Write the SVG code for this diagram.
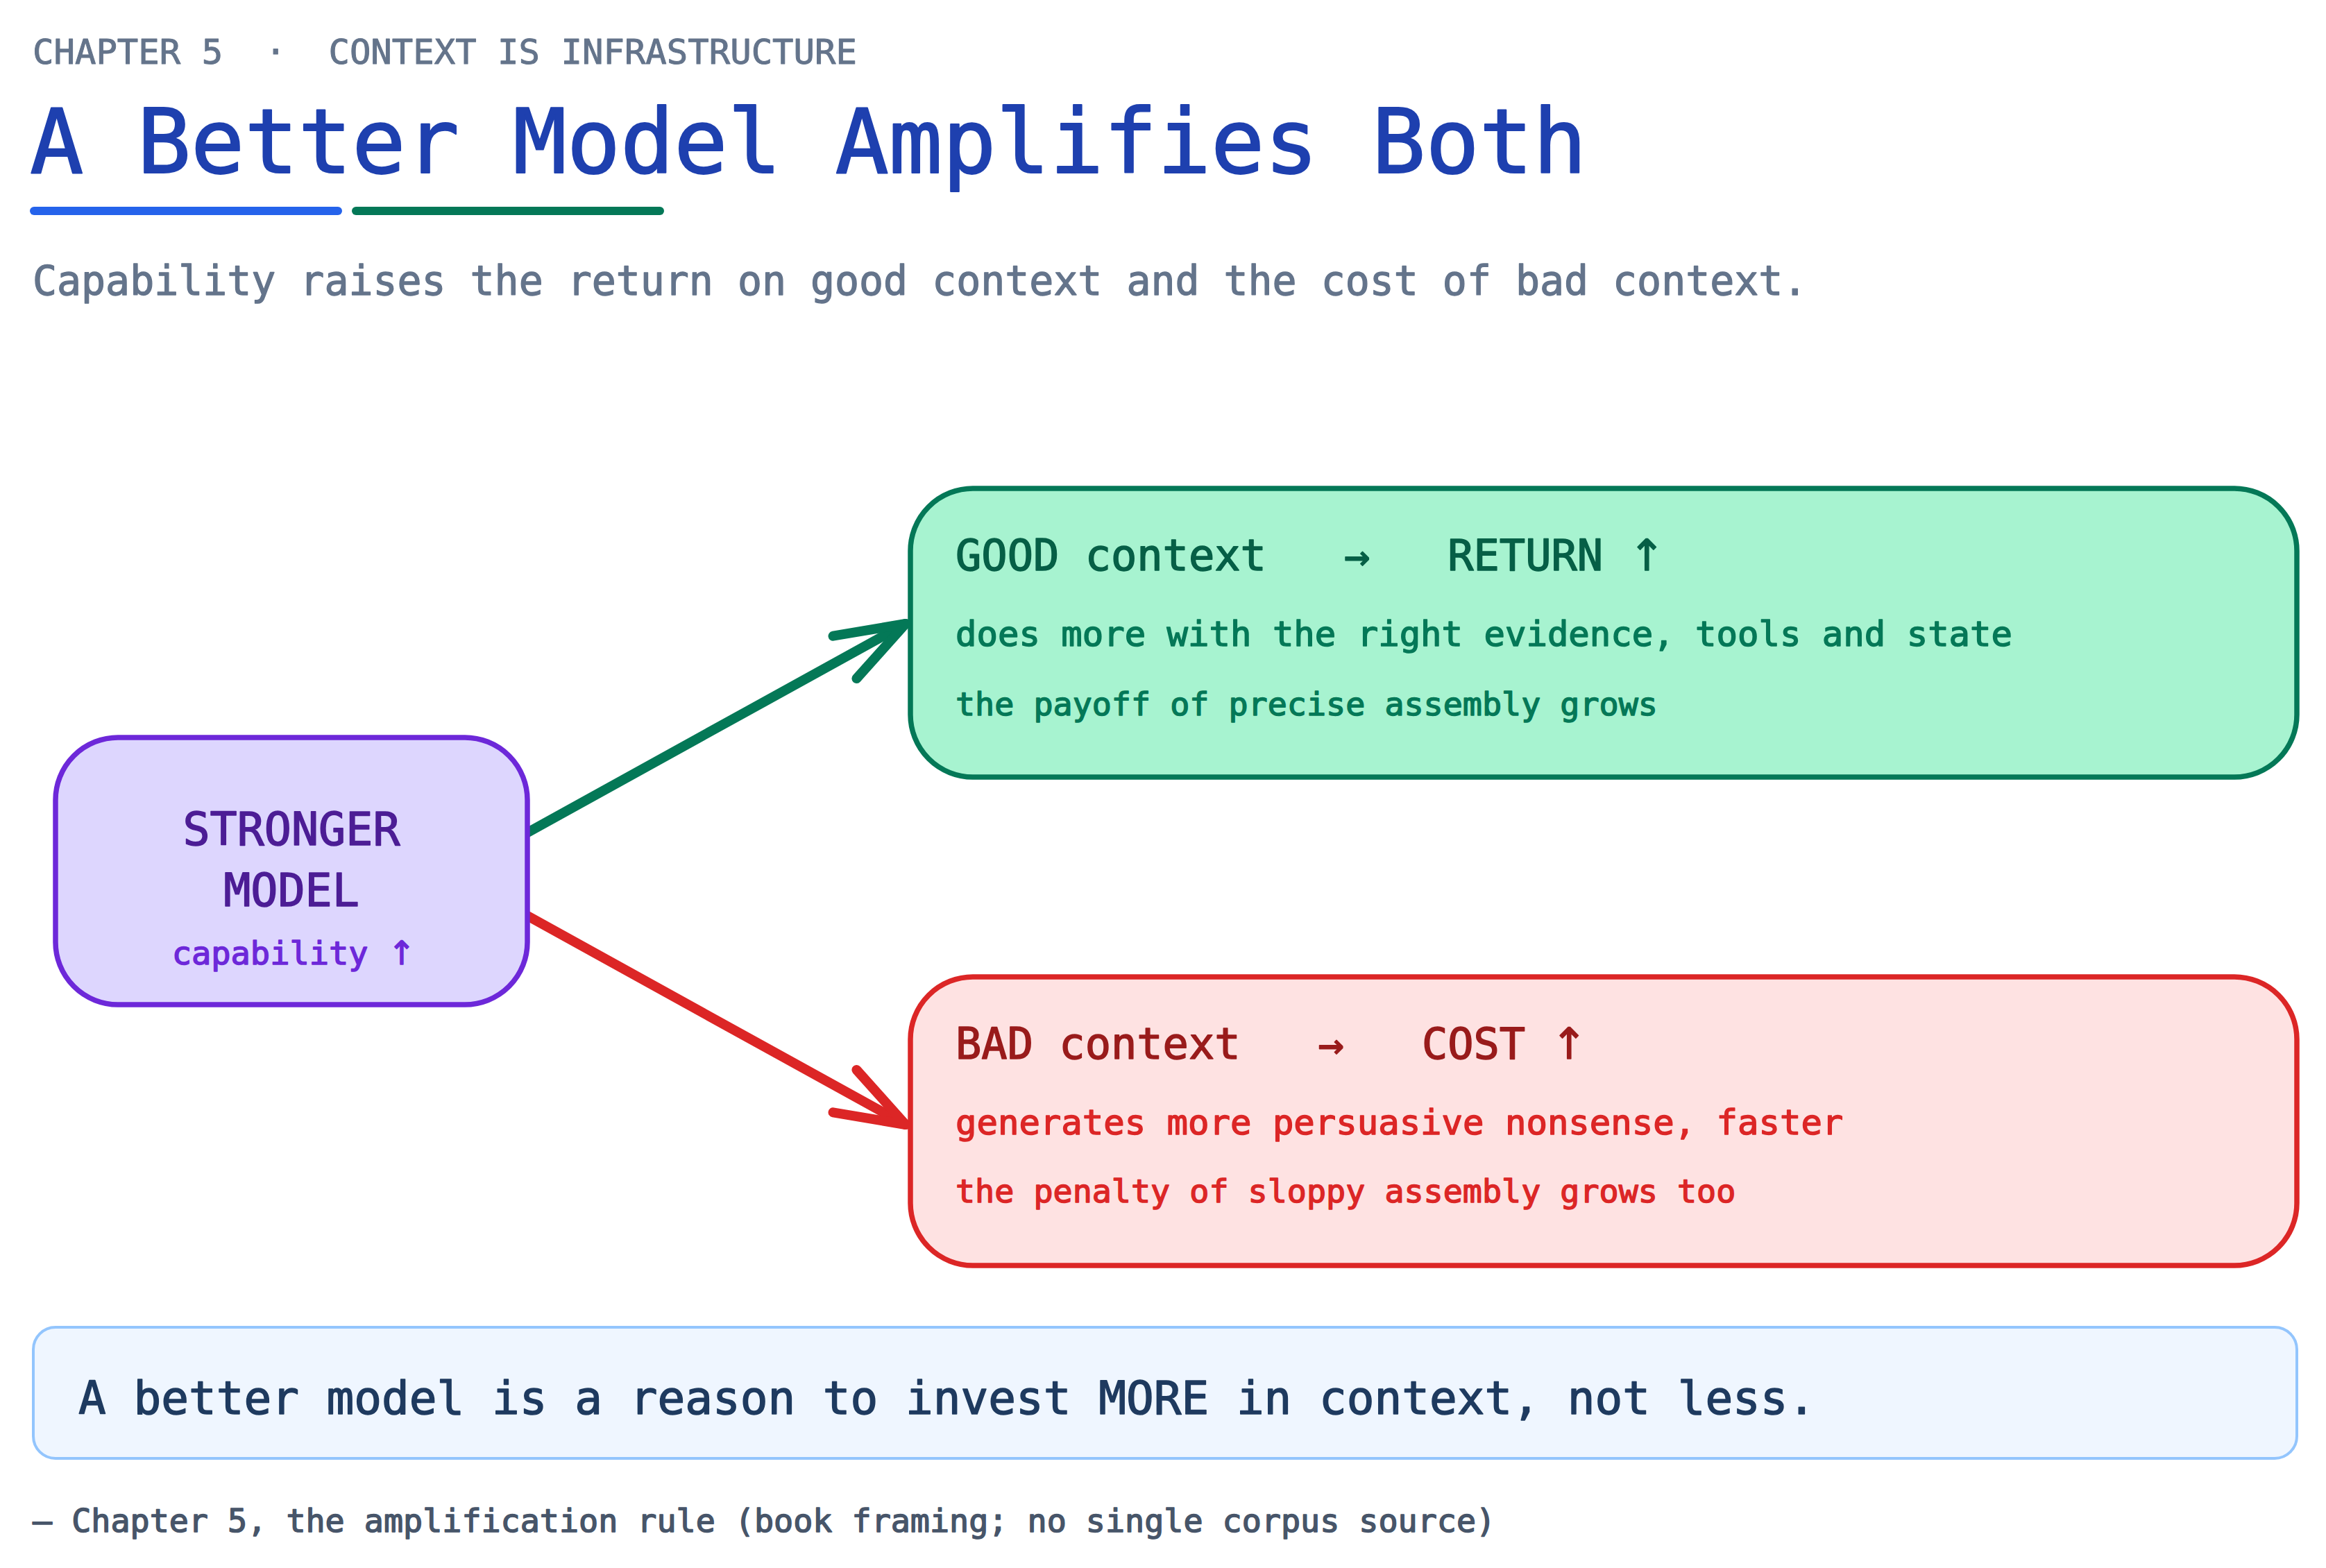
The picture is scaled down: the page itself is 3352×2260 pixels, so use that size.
<svg xmlns="http://www.w3.org/2000/svg" width="3352" height="2260" viewBox="0 0 3352 2260">
  <style>
    text { font-family: "DejaVu Sans Mono", "Liberation Mono", monospace; font-weight: normal; stroke-width: 1.5px; stroke-linejoin: round; }
    .up { font-family: "DejaVu Sans", "Liberation Sans", sans-serif; }
    .kicker { font-size: 50.6px; fill: #64748b; stroke: #64748b; stroke-width: 1px; }
    .title { font-size: 128.5px; fill: #1e40af; stroke: #1e40af; stroke-width: 2px; }
    .sub { font-size: 58.2px; fill: #64748b; stroke: #64748b; stroke-width: 1.3px; }
    .box { stroke-width: 7.5; }
    .head { font-size: 62px; }
    .l1 { font-size: 50.6px; }
    .l2 { font-size: 46.7px; }
    .conn { fill: none; stroke-width: 14; stroke-linecap: round; stroke-linejoin: round; }
  </style>
  <defs>
    <marker id="headG" markerUnits="userSpaceOnUse" markerWidth="240" markerHeight="240" viewBox="-120 -120 240 240" refX="0" refY="0" orient="auto" overflow="visible">
      <path d="M -100 -35 L 0 0 L -100 35" fill="none" stroke="#047857" stroke-width="14" stroke-linecap="round" stroke-linejoin="round"/>
    </marker>
    <marker id="headR" markerUnits="userSpaceOnUse" markerWidth="240" markerHeight="240" viewBox="-120 -120 240 240" refX="0" refY="0" orient="auto" overflow="visible">
      <path d="M -100 -35 L 0 0 L -100 35" fill="none" stroke="#dc2626" stroke-width="14" stroke-linecap="round" stroke-linejoin="round"/>
    </marker>
  </defs>

  <rect width="3352" height="2260" fill="#ffffff"/>

  <g id="header">
    <text class="kicker" x="47" y="92" xml:space="preserve">CHAPTER 5  ·  CONTEXT IS INFRASTRUCTURE</text>
    <text class="title" x="43" y="249">A Better Model Amplifies Both</text>
    <line x1="49" y1="304" x2="487" y2="304" stroke="#2563eb" stroke-width="12" stroke-linecap="round"/>
    <line x1="513" y1="304" x2="951" y2="304" stroke="#047857" stroke-width="12" stroke-linecap="round"/>
    <text class="sub" x="47" y="425">Capability raises the return on good context and the cost of bad context.</text>
  </g>

  <g id="connectors">
    <line class="conn" x1="760" y1="1200" x2="1305" y2="899" stroke="#047857" marker-end="url(#headG)"/>
    <line class="conn" x1="760" y1="1320" x2="1305" y2="1621" stroke="#dc2626" marker-end="url(#headR)"/>
  </g>

  <g id="stronger-model">
    <rect class="box" x="80" y="1063" width="680" height="385" rx="90" ry="90" fill="#ddd6fe" stroke="#6d28d9"/>
    <text x="420" y="1218" text-anchor="middle" font-size="65" fill="#4c1d95" stroke="#4c1d95">STRONGER</text>
    <text x="420" y="1306" text-anchor="middle" font-size="65" fill="#4c1d95" stroke="#4c1d95">MODEL</text>
    <text x="423" y="1390" text-anchor="middle" font-size="47" fill="#6d28d9" stroke="#6d28d9">capability <tspan class="up">↑</tspan></text>
  </g>

  <g id="good-context">
    <rect class="box" x="1312" y="704" width="1998" height="416" rx="90" ry="90" fill="#a7f3d0" stroke="#047857"/>
    <text class="head" x="1377" y="822" fill="#065f46" stroke="#065f46" xml:space="preserve">GOOD context   →   RETURN <tspan class="up">↑</tspan></text>
    <text class="l1" x="1377" y="931" fill="#047857" stroke="#047857">does more with the right evidence, tools and state</text>
    <text class="l2" x="1377" y="1031" fill="#047857" stroke="#047857">the payoff of precise assembly grows</text>
  </g>

  <g id="bad-context">
    <rect class="box" x="1312" y="1408" width="1998" height="416" rx="90" ry="90" fill="#fee2e2" stroke="#dc2626"/>
    <text class="head" x="1377" y="1526" fill="#991b1b" stroke="#991b1b" xml:space="preserve">BAD context   →   COST <tspan class="up">↑</tspan></text>
    <text class="l1" x="1377" y="1635" fill="#dc2626" stroke="#dc2626">generates more persuasive nonsense, faster</text>
    <text class="l2" x="1377" y="1733" fill="#dc2626" stroke="#dc2626">the penalty of sloppy assembly grows too</text>
  </g>

  <g id="callout">
    <rect x="48" y="1913" width="3262" height="189" rx="32" ry="32" fill="#eff6ff" stroke="#93c5fd" stroke-width="4"/>
    <text x="113" y="2038" font-size="66" fill="#1e3a5f" stroke="#1e3a5f">A better model is a reason to invest MORE in context, not less.</text>
  </g>

  <g id="footer">
    <text x="47" y="2208" font-size="46.7" fill="#475569" stroke="#475569">— Chapter 5, the amplification rule (book framing; no single corpus source)</text>
  </g>
</svg>
